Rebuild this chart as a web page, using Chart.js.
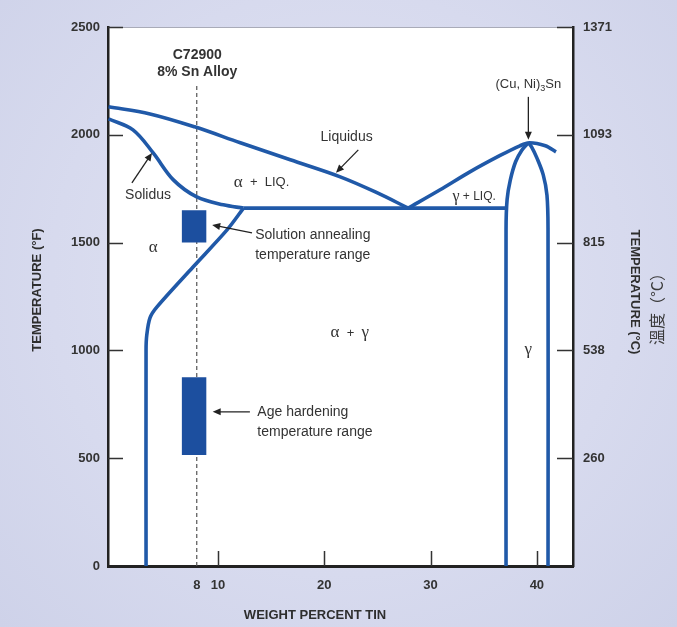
<!DOCTYPE html>
<html>
<head>
<meta charset="utf-8">
<script src="https://cdn.jsdelivr.net/npm/chart.js@4.4.0/dist/chart.umd.min.js"></script>
<style>
  html, body { margin: 0; padding: 0; }
  body {
    width: 677px; height: 627px; overflow: hidden;
    background: radial-gradient(ellipse at 50% 45%, #e2e4f3 0%, #d7daee 60%, #ced2e9 100%);
  }
</style>
</head>
<body>
<canvas id="phaseChart" width="677" height="627"></canvas>
<script>
// tick values / labels
const xTickValues = [8, 10, 20, 30, 40];
const leftTickValues = [0, 500, 1000, 1500, 2000, 2500];
const rightTickValues = [500, 1000, 1500, 2000, 2500];
const rightTickLabels = ['260', '538', '815', '1093', '1371'];

// phase boundaries (wt% Sn, deg F)
const liquidusLeftX = [-0.3, 3.6, 7.8, 12.1, 16.8, 21.5, 24.8, 27.9];
const liquidusLeftY = [2130, 2097, 2037, 1963, 1884, 1805, 1735, 1660];
const liquidusRightX = [27.9, 30.9, 33.7, 36.5, 38.4, 39.3, 40.8, 41.8];
const liquidusRightY = [1660, 1745, 1828, 1903, 1949, 1963, 1949, 1921];
const solidusX = [-0.3, 2.0, 3.9, 5.8, 8.0, 10.5, 12.4];
const solidusY = [2074, 2023, 1916, 1791, 1712, 1675, 1660];
const peritecticX = [12.4, 37.1];
const peritecticY = [1660, 1660];
const alphaSolvusX = [12.4, 10.85, 7.65, 4.26, 3.6, 3.3, 3.23, 3.23];
const alphaSolvusY = [1660, 1559, 1387, 1202, 1151, 1072, 1002, 0];
const gammaLeftX = [37.1, 37.1, 37.2, 37.5, 38.0, 38.6, 39.2];
const gammaLeftY = [0, 1560, 1700, 1790, 1875, 1930, 1963];
const gammaRightX = [41.05, 41.05, 40.95, 40.6, 40.0, 39.5, 39.2];
const gammaRightY = [0, 1560, 1720, 1814, 1893, 1944, 1963];
const alloyLineX = [8, 8];
const alloyLineY = [0, 2232];

// heat treatment ranges
const solutionRangeX = [6.6, 8.9];
const solutionRangeY = [1500, 1650];
const ageRangeX = [6.6, 8.9];
const ageRangeY = [515, 875];

const BLUE = '#2059a8';
const BOX = '#1c4f9f';
const TEXT = '#333';
const SANS = '"Liberation Sans", Arial, sans-serif';
const SERIF = '"Liberation Serif", "Times New Roman", serif';

const pts = (xs, ys) => xs.map((x, i) => ({ x: x, y: ys[i] }));
const rect = (xs, ys) => [
  { x: xs[0], y: ys[0] }, { x: xs[1], y: ys[0] },
  { x: xs[1], y: ys[1] }, { x: xs[0], y: ys[1] }, { x: xs[0], y: ys[0] }
];

function curve(data, tension) {
  return {
    data: data, showLine: true, pointRadius: 0,
    borderColor: BLUE, borderWidth: 3.6, tension: tension, fill: false
  };
}

// labels in data coordinates
const labels = [
  { x: 8.05, y: 2371, align: 'center', parts: [['C72900', 'bold 14px ' + SANS]] },
  { x: 8.05, y: 2292, align: 'center', parts: [['8% Sn Alloy', 'bold 14px ' + SANS]] },
  { x: 22.1, y: 1991, align: 'center', parts: [['Liquidus', '14px ' + SANS]] },
  { x: 3.42, y: 1722, align: 'center', parts: [['Solidus', '14px ' + SANS]] },
  { x: 14.1, y: 1777, align: 'center', parts: [['α', '17px ' + SERIF], ['  +  LIQ.', '13px ' + SANS]] },
  { x: 3.9, y: 1476, align: 'center', parts: [['α', '17px ' + SERIF]] },
  { x: 13.5, y: 1536, align: 'left', parts: [['Solution annealing', '14px ' + SANS]] },
  { x: 13.5, y: 1443, align: 'left', parts: [['temperature range', '14px ' + SANS]] },
  { x: 34.1, y: 1712, align: 'center', parts: [['γ', '16px ' + SERIF], [' + LIQ.', '12px ' + SANS]] },
  { x: 39.2, y: 2232, align: 'center', parts: [['(Cu, Ni)', '13px ' + SANS], ['3', '9px ' + SANS, 4], ['Sn', '13px ' + SANS]] },
  { x: 22.4, y: 1081, align: 'center', parts: [['α', '17px ' + SERIF], ['  +  ', '13px ' + SANS], ['γ', '17px ' + SERIF]] },
  { x: 39.2, y: 1002, align: 'center', parts: [['γ', '17px ' + SERIF]] },
  { x: 13.7, y: 715, align: 'left', parts: [['Age hardening', '14px ' + SANS]] },
  { x: 13.7, y: 622, align: 'left', parts: [['temperature range', '14px ' + SANS]] }
];

const arrows = [
  { from: [23.2, 1930], to: [21.1, 1824] },
  { from: [1.9, 1777], to: [3.79, 1916] },
  { from: [13.2, 1545], to: [9.45, 1582] },
  { from: [39.2, 2176], to: [39.2, 1977] },
  { from: [13.0, 715], to: [9.5, 715] }
];

const diagramExtras = {
  id: 'diagramExtras',
  beforeDraw(chart) {
    const { ctx, chartArea: a } = chart;
    ctx.save();
    ctx.fillStyle = '#ffffff';
    ctx.fillRect(a.left, a.top, a.right - a.left, a.bottom - a.top);
    ctx.strokeStyle = '#a9abb8';
    ctx.lineWidth = 1;
    ctx.beginPath();
    ctx.moveTo(a.left, a.top + 0.5);
    ctx.lineTo(a.right, a.top + 0.5);
    ctx.stroke();
    ctx.restore();
  },
  afterDatasetsDraw(chart) {
    const { ctx, chartArea: a } = chart;
    const xs = chart.scales.x, ys = chart.scales.y;
    ctx.save();

    // inward tick marks
    ctx.strokeStyle = '#333';
    ctx.lineWidth = 1.5;
    ctx.beginPath();
    leftTickValues.slice(1).forEach(v => {
      const py = Math.round(ys.getPixelForValue(v)) + 0.5;
      ctx.moveTo(a.left, py); ctx.lineTo(a.left + 15, py);
    });
    rightTickValues.forEach(v => {
      const py = Math.round(ys.getPixelForValue(v)) + 0.5;
      ctx.moveTo(a.right, py); ctx.lineTo(a.right - 16, py);
    });
    xTickValues.filter(v => v % 10 === 0).forEach(v => {
      const px = Math.round(xs.getPixelForValue(v)) + 0.5;
      ctx.moveTo(px, a.bottom); ctx.lineTo(px, a.bottom - 15);
    });
    ctx.stroke();

    // text labels
    ctx.fillStyle = TEXT;
    ctx.textBaseline = 'middle';
    labels.forEach(l => {
      let total = 0;
      l.parts.forEach(p => { ctx.font = p[1]; total += ctx.measureText(p[0]).width; });
      let px = xs.getPixelForValue(l.x);
      const py = ys.getPixelForValue(l.y);
      if (l.align === 'center') px -= total / 2;
      ctx.textAlign = 'left';
      l.parts.forEach(p => {
        ctx.font = p[1];
        ctx.fillText(p[0], px, py + (p[2] || 0));
        px += ctx.measureText(p[0]).width;
      });
    });

    // arrows
    ctx.strokeStyle = '#222';
    ctx.fillStyle = '#222';
    ctx.lineWidth = 1.3;
    arrows.forEach(ar => {
      const x1 = xs.getPixelForValue(ar.from[0]), y1 = ys.getPixelForValue(ar.from[1]);
      const x2 = xs.getPixelForValue(ar.to[0]), y2 = ys.getPixelForValue(ar.to[1]);
      const ang = Math.atan2(y2 - y1, x2 - x1);
      ctx.beginPath();
      ctx.moveTo(x1, y1);
      ctx.lineTo(x2 - 5 * Math.cos(ang), y2 - 5 * Math.sin(ang));
      ctx.stroke();
      ctx.beginPath();
      ctx.moveTo(x2, y2);
      ctx.lineTo(x2 - 8 * Math.cos(ang) + 3.5 * Math.sin(ang), y2 - 8 * Math.sin(ang) - 3.5 * Math.cos(ang));
      ctx.lineTo(x2 - 8 * Math.cos(ang) - 3.5 * Math.sin(ang), y2 - 8 * Math.sin(ang) + 3.5 * Math.cos(ang));
      ctx.closePath();
      ctx.fill();
    });

    // axis titles
    ctx.fillStyle = '#2e2e2e';
    ctx.textAlign = 'center';
    ctx.font = 'bold 13px ' + SANS;
    ctx.fillText('WEIGHT PERCENT TIN', 315, 615);

    ctx.save();
    ctx.translate(37, 290);
    ctx.rotate(-Math.PI / 2);
    ctx.fillText('TEMPERATURE (°F)', 0, 0);
    ctx.restore();

    ctx.save();
    ctx.translate(635, 292);
    ctx.rotate(Math.PI / 2);
    ctx.fillText('TEMPERATURE (°C)', 0, 0);
    ctx.restore();

    ctx.save();
    ctx.translate(657, 305);
    ctx.rotate(-Math.PI / 2);
    ctx.fillStyle = '#3a3a3a';
    ctx.font = '16px "Noto Sans CJK TC", "Noto Sans CJK SC", sans-serif';
    ctx.fillText('溫度（°C）', 0, 0);
    ctx.restore();

    ctx.restore();
  }
};

const tickFont = { family: SANS, size: 13, weight: 'bold' };

new Chart(document.getElementById('phaseChart'), {
  type: 'scatter',
  data: {
    datasets: [
      { data: rect(solutionRangeX, solutionRangeY), showLine: true, pointRadius: 0, borderWidth: 0, backgroundColor: BOX, fill: 'shape', tension: 0 },
      { data: rect(ageRangeX, ageRangeY), showLine: true, pointRadius: 0, borderWidth: 0, backgroundColor: BOX, fill: 'shape', tension: 0 },
      curve(pts(liquidusLeftX, liquidusLeftY), 0.35),
      curve(pts(liquidusRightX, liquidusRightY), 0.3),
      curve(pts(solidusX, solidusY), 0.35),
      curve(pts(peritecticX, peritecticY), 0),
      curve(pts(alphaSolvusX, alphaSolvusY), 0.3),
      curve(pts(gammaLeftX, gammaLeftY), 0.35),
      curve(pts(gammaRightX, gammaRightY), 0.35),
      { data: pts(alloyLineX, alloyLineY), showLine: true, pointRadius: 0, borderColor: '#555', borderWidth: 1.2, borderDash: [4, 3], tension: 0 }
    ]
  },
  options: {
    responsive: false,
    animation: false,
    layout: { padding: { top: 27, left: 0, right: 0, bottom: 0 } },
    plugins: {
      legend: { display: false },
      tooltip: { enabled: false }
    },
    scales: {
      x: {
        type: 'linear',
        min: -0.35, max: 43.4,
        afterBuildTicks: s => { s.ticks = xTickValues.map(v => ({ value: v })); },
        afterFit: s => { s.height = 61; },
        grid: { display: false, drawTicks: false },
        border: { display: true, color: '#222', width: 3 },
        ticks: { autoSkip: false, maxRotation: 0, padding: 12, color: '#333', font: tickFont, callback: v => String(v) }
      },
      y: {
        position: 'left',
        min: 0, max: 2500,
        afterBuildTicks: s => { s.ticks = leftTickValues.map(v => ({ value: v })); },
        afterFit: s => { s.width = 108; },
        grid: { display: false, drawTicks: false },
        border: { display: true, color: '#222', width: 2.5 },
        ticks: { padding: 8, color: '#333', font: tickFont, callback: v => String(v) }
      },
      y2: {
        position: 'right',
        min: 0, max: 2500,
        afterBuildTicks: s => { s.ticks = rightTickValues.map(v => ({ value: v })); },
        afterFit: s => { s.width = 104; },
        grid: { display: false, drawTicks: false },
        border: { display: true, color: '#222', width: 2.5 },
        ticks: {
          padding: 10, color: '#333', font: tickFont,
          callback: (v) => rightTickLabels[rightTickValues.indexOf(v)]
        }
      }
    }
  },
  plugins: [diagramExtras]
});
</script>
</body>
</html>
